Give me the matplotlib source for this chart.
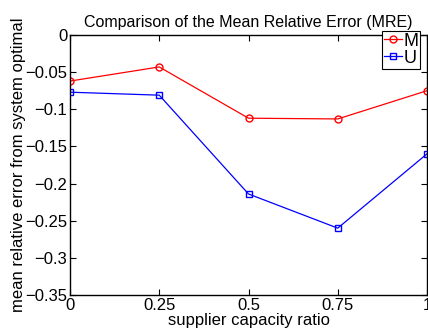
import numpy as np
import matplotlib.pyplot as plt
from matplotlib.ticker import FuncFormatter

plt.rcParams['font.family'] = ['Liberation Sans', 'DejaVu Sans']

ratio = [0, 0.25, 0.5, 0.75, 1]
mre_m = [-0.062, -0.043, -0.112, -0.113, -0.075]
mre_u = [-0.077, -0.081, -0.214, -0.260, -0.160]
x_ticks = [0, 0.25, 0.5, 0.75, 1]
y_ticks = [0, -0.05, -0.1, -0.15, -0.2, -0.25, -0.3, -0.35]


def fmt(v, pos):
    s = ("%.2f" % v).rstrip("0").rstrip(".")
    if s in ("-0", ""):
        s = "0"
    return s.replace("-", "\u2212")


fig = plt.figure(figsize=(4.28, 3.35), dpi=100)
ax = fig.add_axes([70 / 428, 40 / 335, 357 / 428, 260 / 335])

ax.plot(ratio, mre_m, color="red", marker="o", markersize=5, markerfacecolor="none",
        linewidth=0.9, label="M")
ax.plot(ratio, mre_u, color="blue", marker="s", markersize=4.5, markerfacecolor="none",
        linewidth=0.9, label="U")

ax.set_xlim(0, 1)
ax.set_ylim(-0.35, 0)
ax.set_xticks(x_ticks)
ax.set_yticks(y_ticks)
ax.xaxis.set_major_formatter(FuncFormatter(fmt))
ax.yaxis.set_major_formatter(FuncFormatter(fmt))
ax.tick_params(direction="in", labelsize=12, length=4, width=0.8, top=True, right=True, pad=2)
for sp in ax.spines.values():
    sp.set_linewidth(1.0)

ax.set_title("Comparison of the Mean Relative Error (MRE)", fontsize=11.5, pad=6)
ax.set_xlabel("supplier capacity ratio", fontsize=12, labelpad=0.5)
ax.set_ylabel("mean relative error from system optimal", fontsize=12, labelpad=-1)

leg = ax.legend(loc="upper right", bbox_to_anchor=(420 / 428, 1 - 31 / 335),
                bbox_transform=fig.transFigure, borderaxespad=0, fontsize=13,
                handlelength=1.0, handletextpad=0.05, borderpad=0.1, labelspacing=0.0,
                fancybox=False, framealpha=1)
leg.get_frame().set_edgecolor("black")
leg.get_frame().set_linewidth(0.8)

fig.savefig("out.png", dpi=100)
